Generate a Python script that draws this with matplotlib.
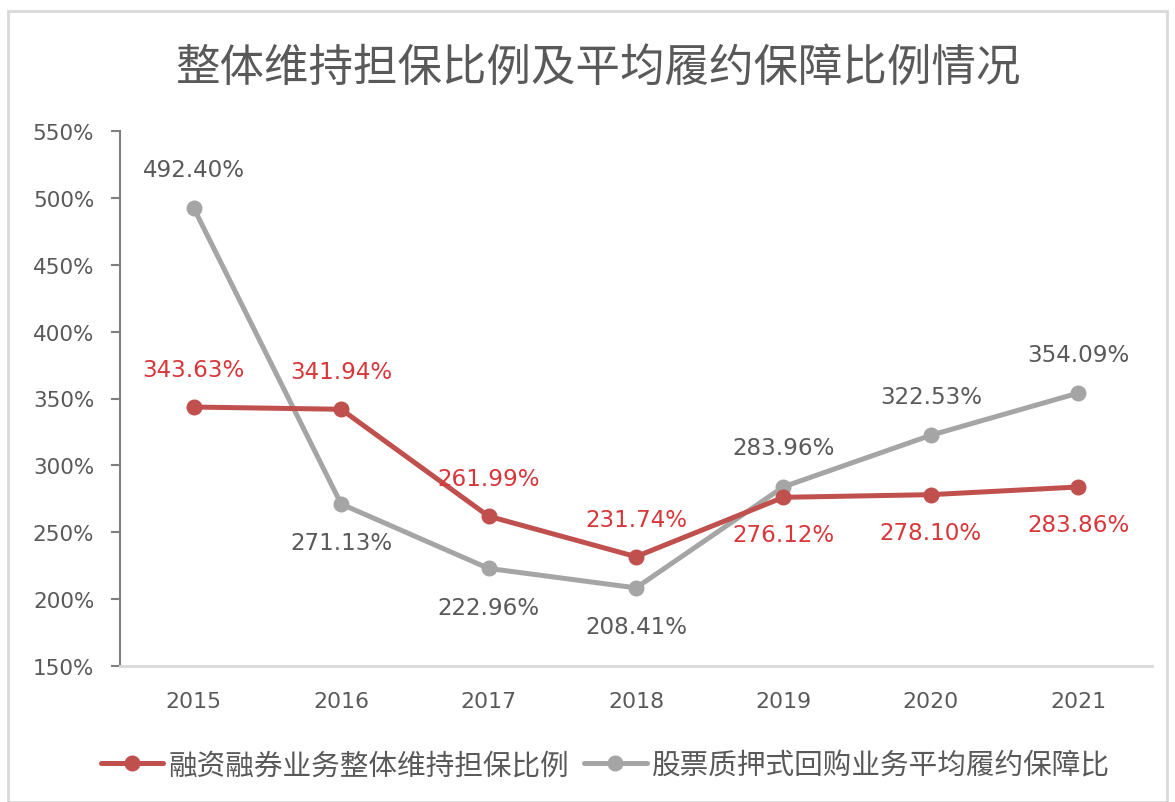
import matplotlib
matplotlib.use("Agg")
import matplotlib.pyplot as plt
from matplotlib.patches import Rectangle

plt.rcParams['font.family'] = ['Noto Sans CJK SC', 'DejaVu Sans']

years = ['2015', '2016', '2017', '2018', '2019', '2020', '2021']
margin_ratio = [343.63, 341.94, 261.99, 231.74, 276.12, 278.10, 283.86]
pledge_ratio = [492.40, 271.13, 222.96, 208.41, 283.96, 322.53, 354.09]
series_names = ['融资融券业务整体维持担保比例', '股票质押式回购业务平均履约保障比']
title = '整体维持担保比例及平均履约保障比例情况'
yticks = [150, 200, 250, 300, 350, 400, 450, 500, 550]

# label placement: +1 above, -1 below
margin_pos = [1, 1, 1, 1, -1, -1, -1]
pledge_pos = [1, -1, -1, -1, 1, 1, 1]

red = '#C0504D'
red_text = '#D8373A'
gray = '#A5A5A5'
text_gray = '#595959'
num_font = 'DejaVu Sans'

fig = plt.figure(figsize=(11.75, 8.03), dpi=100)
fig.patches.append(Rectangle((8/1175, 0.0), 1 - 16/1175, 1 - 12/803,
                             transform=fig.transFigure, fill=False,
                             edgecolor='#D9D9D9', linewidth=2))
ax = fig.add_axes([120/1175, 1 - 667/803, 1032/1175, 535/803])

x = list(range(len(years)))
l1, = ax.plot(x, margin_ratio, color=red, lw=3.6, marker='o', ms=10.5,
              solid_capstyle='round', zorder=3)
l2, = ax.plot(x, pledge_ratio, color=gray, lw=3.6, marker='o', ms=10.5,
              solid_capstyle='round', zorder=2)

for xi, v, p in zip(x, margin_ratio, margin_pos):
    ax.annotate(f'{v:.2f}%', (xi, v), xytext=(0, 27 * p), textcoords='offset points',
                ha='center', va='center', color=red_text, fontsize=16.6,
                family=num_font)
for xi, v, p in zip(x, pledge_ratio, pledge_pos):
    ax.annotate(f'{v:.2f}%', (xi, v), xytext=(0, 28 * p), textcoords='offset points',
                ha='center', va='center', color=text_gray, fontsize=16.6,
                family=num_font)

ax.set_xlim(-0.5, 6.5)
ax.set_ylim(150, 550)
ax.set_yticks(yticks)
ax.set_yticklabels([f'{t}%' for t in yticks], family=num_font)
ax.set_xticks(x)
ax.set_xticklabels(years, family=num_font)
ax.tick_params(axis='y', direction='out', length=6.5, width=1.5, color='#808080',
               labelsize=15.5, labelcolor=text_gray, pad=12)
ax.tick_params(axis='x', length=0, labelsize=15.8, labelcolor=text_gray, pad=18)
for s in ['top', 'right']:
    ax.spines[s].set_visible(False)
ax.spines['left'].set_color('#808080')
ax.spines['left'].set_linewidth(1.5)
ax.spines['bottom'].set_color('#D9D9D9')
ax.spines['bottom'].set_linewidth(2)

fig.text(598/1175, 1 - 68/803, title, ha='center', va='center',
         fontsize=32, color=text_gray)

fig.legend([l1, l2], series_names, loc='center', bbox_to_anchor=(0.515, 1 - 766/803),
           ncol=2, frameon=False, fontsize=20.6, labelcolor=text_gray,
           handlelength=2.2, handletextpad=0.18, columnspacing=0.5)

fig.savefig('out.png', dpi=100)
